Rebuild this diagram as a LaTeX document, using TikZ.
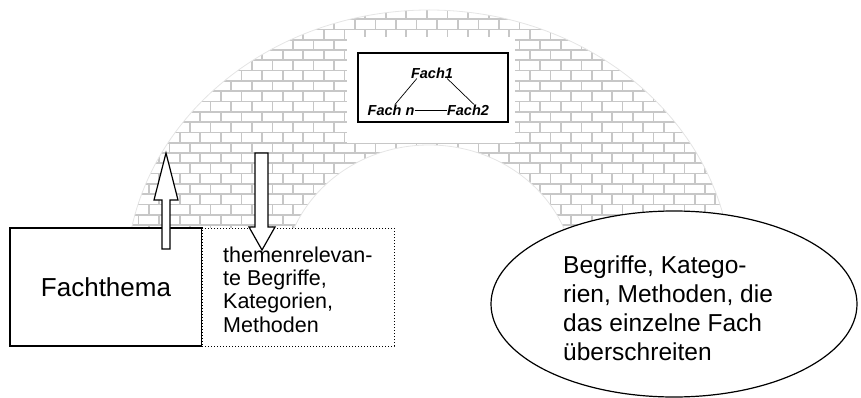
\documentclass[tikz,border=0pt]{standalone}
\usepackage{fontspec}
\setmainfont{Liberation Sans}
\usetikzlibrary{shapes.geometric}
\begin{document}
\begin{tikzpicture}[x=1pt,y=-1pt,
  mortar/.style={draw=black!22, line width=1.7pt},
  archline/.style={draw=black!10, line width=0.8pt},
  blockarrow/.style={draw=black, fill=white, line width=1.2pt, line join=miter},
  fachlabel/.style={font=\fontsize{14.5}{16}\selectfont\bfseries\itshape, inner sep=0pt},
  netzline/.style={draw=black, line width=0.7pt},
  bigtext/.style={inner sep=0pt, align=left},
]
\useasboundingbox (0,0) rectangle (861,398);

% brick arch (half annulus)
\def\archpath{(732,280) arc[start angle=0,end angle=180,x radius=303pt,y radius=270pt]
  -- (283,280) arc[start angle=180,end angle=0,x radius=146pt,y radius=135pt] -- cycle}
\begin{scope}
  \path[clip] \archpath;
  \fill[white] (100,0) rectangle (760,300);
  \foreach \k in {0,...,27}{
    \pgfmathsetmacro\ya{8.8+10.3*\k}
    \pgfmathsetmacro\yb{\ya+10.3}
    \pgfmathsetmacro\off{14.9-10.3*mod(\k,2)}
    \draw[mortar] (100,\ya) -- (760,\ya);
    \foreach \j in {5,...,37}
      \draw[mortar] ({\off+20.6*\j},\ya) -- ({\off+20.6*\j},\yb);
  }
\end{scope}
\draw[archline] \archpath;

% network of subjects on the arch
\fill[white] (347,37) rectangle (515,143);
\node[draw, line width=1.2pt, minimum width=150pt, minimum height=69pt, inner sep=0pt] (netz) at (433,87.5) {};
\node[fachlabel] (f1) at (432,73) {Fach1};
\node[fachlabel] (fn) at (391,110) {Fach n};
\node[fachlabel] (f2) at (468,110) {Fach2};
\draw[netzline] ([xshift=6pt]f1.south west) -- ([xshift=4pt]fn.north);
\draw[netzline] ([xshift=-6pt]f1.south east) -- ([xshift=6pt]f2.north);
\draw[netzline] (fn.east) -- (f2.west);

% lower boxes
\node[draw, line width=1.5pt, fill=white, minimum width=192pt, minimum height=118pt,
      font=\fontsize{26}{30}\selectfont] (thema) at (106,287) {Fachthema};
\node[draw, dotted, line width=1pt, fill=white, minimum width=192pt, minimum height=118pt] (liste) at (298,287) {};
\node[bigtext, anchor=base west, font=\fontsize{21.5}{23.3}\selectfont] (listetext) at (223,332)
  {themenrelevan-\\te Begriffe,\\Kategorien,\\Methoden};

% ellipse
\node[draw, ellipse, line width=1.2pt, fill=white, minimum width=366pt, minimum height=186pt, inner sep=0pt] (trans) at (674,304) {};
\node[bigtext, anchor=base west, font=\fontsize{24.5}{29}\selectfont] (transtext) at (563,360)
  {Begriffe, Katego-\\rien, Methoden, die\\das einzelne Fach\\überschreiten};

% block arrows
\draw[blockarrow] (166,153) -- (178,200) -- (170,200) -- (170,249) -- (162,249) -- (162,200) -- (154,200) -- cycle;
\draw[blockarrow] (255,153) -- (268,153) -- (268,227) -- (275,227) -- (262,250) -- (249,227) -- (255,227) -- cycle;
\end{tikzpicture}
\end{document}
